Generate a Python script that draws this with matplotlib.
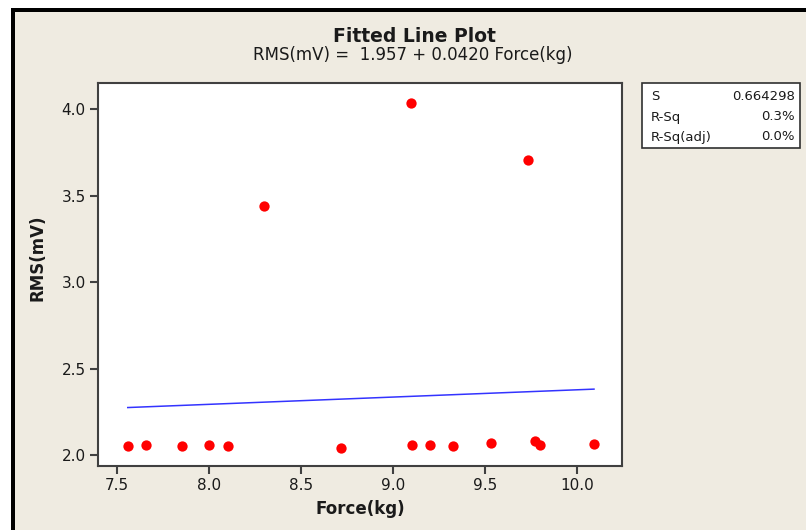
import matplotlib
matplotlib.use("Agg")
import matplotlib.pyplot as plt
from matplotlib.patches import Rectangle
import numpy as np

force = [7.557, 7.658, 7.851, 7.997, 8.100, 8.299, 8.715, 9.099, 9.106, 9.202, 9.325,
         9.534, 9.737, 9.775, 9.800, 10.094]
rms = [2.053, 2.059, 2.053, 2.059, 2.053, 3.441, 2.043, 4.035, 2.059, 2.059, 2.053,
       2.067, 3.705, 2.079, 2.057, 2.065]
intercept = 1.957
slope = 0.0420
stat_names = ["S", "R-Sq", "R-Sq(adj)"]
stat_values = ["0.664298", "0.3%", "0.0%"]
xticks = [7.5, 8.0, 8.5, 9.0, 9.5, 10.0]
yticks = [2.0, 2.5, 3.0, 3.5, 4.0]

W, H = 806, 530
fig = plt.figure(figsize=(W / 100, H / 100), dpi=100)
fig.patch.set_facecolor("white")
bg = "#EFEBE1"
txt = "#1a1a1a"

# background canvas in pixel coords (y downward)
bgax = fig.add_axes([0, 0, 1, 1], zorder=-10)
bgax.set_xlim(0, W)
bgax.set_ylim(H, 0)
bgax.axis("off")
bgax.add_patch(Rectangle((11, 8), W - 11, H - 8, facecolor=bg, edgecolor="none"))
bgax.add_patch(Rectangle((11, 8), W - 11, 4, facecolor="black", edgecolor="none"))
bgax.add_patch(Rectangle((11, 8), 4, H - 8, facecolor="black", edgecolor="none"))

bgax.text(414, 41.7, "Fitted Line Plot", ha="center", va="baseline",
          fontsize=13.5, fontweight="bold", color=txt)
bgax.text(413, 60, "RMS(mV) =  1.957 + 0.0420 Force(kg)", ha="center",
          va="baseline", fontsize=12, color=txt)

# stats box
bgax.add_patch(Rectangle((642, 83), 158, 65, facecolor="white", edgecolor="#303030", lw=1.2))
for i, (n, v) in enumerate(zip(stat_names, stat_values)):
    yy = 97 + i * 20
    bgax.text(651, yy, n, ha="left", va="center", fontsize=9.5, color=txt)
    bgax.text(795, yy, v, ha="right", va="center", fontsize=9.5, color=txt)

ax = fig.add_axes((98.3 / W, 1 - 465.7 / H, 524 / W, 382.4 / H))
ax.set_facecolor("white")
ax.scatter(force, rms, s=55, color="#FF0000", zorder=3, linewidths=0)
xs = np.array([min(force), max(force)])
ax.plot(xs, intercept + slope * xs, color="#3333FF", lw=1.1, zorder=2)

ax.set_xlim(7.3966, 10.248)
ax.set_ylim(1.938, 4.150)
ax.set_xticks(xticks)
ax.set_xticklabels([f"{v:.1f}" for v in xticks])
ax.set_yticks(yticks)
ax.set_yticklabels([f"{v:.1f}" for v in yticks])
for s in ax.spines.values():
    s.set_color("#404040")
    s.set_linewidth(1.5)
ax.tick_params(direction="out", length=5.5, width=1.5, color="#404040", labelsize=11,
               labelcolor=txt, pad=3.5)
ax.set_xlabel("Force(kg)", fontsize=12, fontweight="bold", labelpad=5, color=txt)
ax.set_ylabel("RMS(mV)", fontsize=12, fontweight="bold", color=txt)
ax.yaxis.set_label_coords(-0.098, 0.545)

fig.savefig("out.png", dpi=100, facecolor=fig.get_facecolor())
